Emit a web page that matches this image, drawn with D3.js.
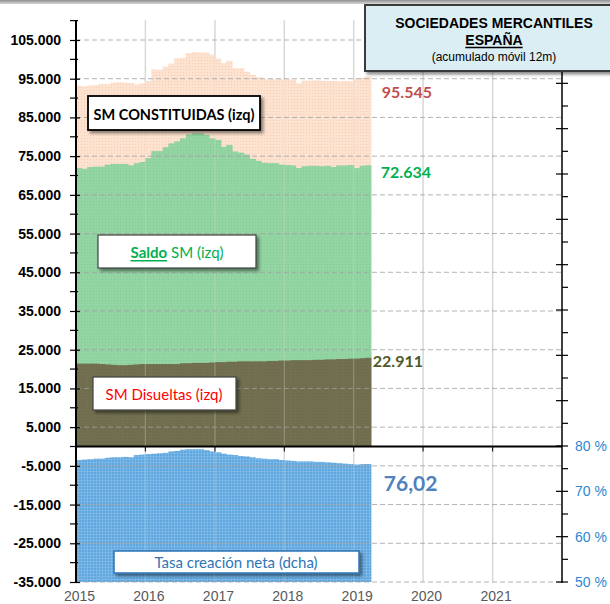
<!DOCTYPE html>
<html><head><meta charset="utf-8">
<script src="https://cdn.jsdelivr.net/npm/d3@7"></script>
<style>body{margin:0;background:#fff;} svg{display:block;}</style>
</head><body><svg id="c" width="610" height="604"></svg>
<script>
// ---- DATA ----
const months = ["2015-01","2015-02","2015-03","2015-04","2015-05","2015-06","2015-07","2015-08","2015-09","2015-10","2015-11","2015-12",
"2016-01","2016-02","2016-03","2016-04","2016-05","2016-06","2016-07","2016-08","2016-09","2016-10","2016-11","2016-12",
"2017-01","2017-02","2017-03","2017-04","2017-05","2017-06","2017-07","2017-08","2017-09","2017-10","2017-11","2017-12",
"2018-01","2018-02","2018-03","2018-04","2018-05","2018-06","2018-07","2018-08","2018-09","2018-10","2018-11","2018-12",
"2019-01","2019-02","2019-03"];
const constituidas = [93200,93000,93300,93400,93600,93600,94000,94100,94000,93900,93500,93800,
94400,97400,97300,98100,98900,100300,100400,101600,101900,101800,101800,101200,
100200,99000,99600,97700,97700,96800,96000,95400,94900,94900,94900,94900,
94900,94800,93800,94500,94500,94600,94500,94400,94400,94300,94400,94300,
94900,95200,95545];
const saldo = [71900,71700,72200,72300,72300,72800,73000,73000,73000,72600,73200,73500,
74500,76300,76300,77300,78300,78800,79600,80600,80900,80900,80500,79600,
79200,77400,77900,76200,75900,75400,74300,73800,73300,73200,73200,72800,
72700,72600,71900,72400,72500,72500,72400,72500,72200,72600,72600,72700,
71900,72500,72634];
const disueltas = [21400,21400,21400,21400,21300,21200,21100,21000,21000,21100,21200,21300,
21300,21300,21300,21300,21300,21300,21500,21500,21600,21600,21600,21700,
21800,21800,21900,21900,22000,22000,22000,22000,22000,22100,22100,22200,
22200,22300,22300,22300,22300,22400,22400,22500,22500,22600,22600,22700,
22700,22800,22911];
const tasa = [76.9,77.0,77.1,77.2,77.2,77.4,77.5,77.5,77.6,77.5,78.0,78.1,
78.2,78.3,78.4,78.5,78.8,78.9,79.2,79.3,79.3,79.3,79.1,78.8,
78.6,78.3,78.1,78.0,77.8,77.7,77.5,77.3,77.2,77.1,77.1,76.9,
76.8,76.7,76.6,76.6,76.6,76.5,76.5,76.4,76.3,76.2,76.1,76.0,
75.9,76.0,76.02];
const leftTicks = [-35000,-25000,-15000,-5000,5000,15000,25000,35000,45000,55000,65000,75000,85000,95000,105000];
const leftMinor = [-30000,-20000,-10000,0,10000,20000,30000,40000,50000,60000,70000,80000,90000,100000,110000];
const rightTicks = [50,60,70,80];
const rightAllTicks = [50,55,60,65,70,75,80,85,90,95,100,105,110,115,120,125,130,135,140,145,150,155,160];
const years = [2015,2016,2017,2018,2019,2020,2021];
const lastLabels = ["95.545","72.634","22.911","76,02"];
const titleLines = ["SOCIEDADES MERCANTILES","ESPAÑA","(acumulado móvil 12m)"];
const legendTexts = ["SM CONSTITUIDAS (izq)","Saldo","SM (izq)","SM Disueltas (izq)","Tasa creación neta (dcha)"];

// ---- SETUP ----
const svg = d3.select("#c");
const parse = d3.timeParse("%Y-%m");
const dates = months.map(parse);
const x = d3.scaleTime().domain([new Date(2015,0,1), new Date(2022,0,1)]).range([76,562]);
const yL = d3.scaleLinear().domain([-35000,105000]).range([582,40]);
const yR = d3.scaleLinear().domain([50,80]).range([582,446]);
const loc = d3.formatLocale({decimal:",", thousands:".", grouping:[3], currency:["","€"], minus:"-"});
const fmt = loc.format(",.0f");

const defs = svg.append("defs");
function pat(id, base, dot, grid){
  const p = defs.append("pattern").attr("id",id).attr("width",3).attr("height",3).attr("patternUnits","userSpaceOnUse");
  p.append("rect").attr("width",3).attr("height",3).attr("fill",base);
  if(grid){
    p.append("rect").attr("x",0).attr("y",0).attr("width",3).attr("height",1).attr("fill",dot);
    p.append("rect").attr("x",0).attr("y",0).attr("width",1).attr("height",3).attr("fill",dot);
  } else {
    p.append("rect").attr("x",0).attr("y",0).attr("width",1).attr("height",1).attr("fill",dot);
  }
}
pat("pPeach","#fde2d0","#f6cdb6",false);
pat("pGreen","#92d4a2","#86c996",false);
pat("pOlive","#716f4f","#6b694a",false);
pat("pBlue","#5ea6de","#7ab6e6",true);
const f = defs.append("filter").attr("id","sh").attr("x","-10%").attr("y","-20%").attr("width","130%").attr("height","160%");
f.append("feDropShadow").attr("dx",2.5).attr("dy",2.5).attr("stdDeviation",1.5).attr("flood-color","#000").attr("flood-opacity",0.45);
const g1 = defs.append("linearGradient").attr("id","topband").attr("x1",0).attr("x2",0).attr("y1",0).attr("y2",1);
g1.append("stop").attr("offset","0%").attr("stop-color","#8f8f8f");
g1.append("stop").attr("offset","100%").attr("stop-color","#d8d8d8");

svg.append("rect").attr("width",610).attr("height",4).attr("fill","url(#topband)");

// vertical gridlines (behind areas, visible in empty part)
svg.append("g").selectAll("line").data(years.slice(1)).join("line")
  .attr("x1",d=>x(new Date(d,0,1))).attr("x2",d=>x(new Date(d,0,1)))
  .attr("y1",20).attr("y2",582).attr("stroke","#d9d9d9").attr("stroke-width",1.5);

function bars(arr, yfun, base, fill){
  svg.append("g").selectAll("rect").data(arr).join("rect")
    .attr("x",(d,i)=>x(dates[i]))
    .attr("width",(d,i)=>x(d3.timeMonth.offset(dates[i],1))-x(dates[i])+0.6)
    .attr("y",d=>yfun(d))
    .attr("height",d=>base - yfun(d))
    .attr("fill",fill);
}
bars(constituidas, yL, yL(0), "url(#pPeach)");
bars(saldo, yL, yL(0), "url(#pGreen)");
bars(disueltas, yL, yL(0), "url(#pOlive)");
bars(tasa, yR, yR(50), "url(#pBlue)");

// faint gridlines over areas
svg.append("g").selectAll("line").data(years.slice(1)).join("line")
  .attr("x1",d=>x(new Date(d,0,1))).attr("x2",d=>x(new Date(d,0,1)))
  .attr("y1",20).attr("y2",582).attr("stroke","#d9d9d9").attr("stroke-width",1.2).attr("opacity",0.3);
svg.append("g").selectAll("line").data(leftTicks).join("line")
  .attr("x1",76).attr("x2",562).attr("y1",d=>yL(d)).attr("y2",d=>yL(d))
  .attr("stroke","#a0a0a0").attr("stroke-width",1).attr("stroke-dasharray","5,3").attr("opacity",0.8);

// zero line
svg.append("line").attr("x1",76).attr("x2",562).attr("y1",yL(0)).attr("y2",yL(0)).attr("stroke","#000").attr("stroke-width",2);
svg.append("g").selectAll("line").data(years.slice(1)).join("line")
  .attr("x1",d=>x(new Date(d,0,1))).attr("x2",d=>x(new Date(d,0,1)))
  .attr("y1",yL(0)).attr("y2",yL(0)+5).attr("stroke","#000").attr("stroke-width",1);

// left axis
const la = svg.append("g").attr("transform","translate(76,0)")
  .call(d3.axisLeft(yL).tickValues(leftTicks).tickFormat(fmt).tickSize(6).tickPadding(9));
la.select(".domain").remove();
la.selectAll(".tick line").attr("x1",4).attr("x2",-6).attr("stroke","#000").attr("stroke-width",1.2);
la.selectAll(".tick text").attr("font-family","Liberation Sans, Arial, sans-serif").attr("font-weight","bold").attr("font-size",14).attr("fill","#000");
svg.append("g").selectAll("line").data(leftMinor).join("line")
  .attr("x1",70).attr("x2",78).attr("y1",d=>yL(d)).attr("y2",d=>yL(d)).attr("stroke","#000").attr("stroke-width",1.2);
svg.append("line").attr("x1",76).attr("x2",76).attr("y1",20).attr("y2",583).attr("stroke","#000").attr("stroke-width",2);

// right axis
svg.append("line").attr("x1",562).attr("x2",562).attr("y1",20).attr("y2",583).attr("stroke","#000").attr("stroke-width",1.5);
svg.append("g").selectAll("line").data(rightAllTicks).join("line")
  .attr("x1",d=>d%10===0?556:562).attr("x2",568)
  .attr("y1",d=>yR(d)).attr("y2",d=>yR(d)).attr("stroke","#000").attr("stroke-width",1.2);
const ra = svg.append("g").attr("transform","translate(562,0)")
  .call(d3.axisRight(yR).tickValues(rightTicks).tickFormat(d=>d+" %").tickSize(0).tickPadding(13));
ra.select(".domain").remove();
ra.selectAll(".tick text").attr("font-family","Liberation Sans, Arial, sans-serif").attr("font-size",14).attr("fill","#2e86d1");

// x labels
const xa = svg.append("g").attr("transform","translate(0,588)")
  .call(d3.axisBottom(x).tickValues(years.map(y=>new Date(y,0,1))).tickFormat(d3.timeFormat("%Y")).tickSize(0).tickPadding(3));
xa.select(".domain").remove();
xa.selectAll(".tick text").attr("font-family","Liberation Sans, Arial, sans-serif").attr("font-size",14).attr("fill","#595959").attr("dx",3);

// legend boxes
function box(x0,y0,w,h,stroke,sw){
  svg.append("rect").attr("x",x0).attr("y",y0).attr("width",w).attr("height",h)
    .attr("fill","#fff").attr("stroke",stroke).attr("stroke-width",sw).attr("filter","url(#sh)");
}
const lf = "Lato, 'Open Sans', sans-serif";
box(88,96,172,34,"#000",1.8);
svg.append("text").attr("x",174).attr("y",114).attr("text-anchor","middle").attr("dominant-baseline","central")
  .attr("font-family",lf).attr("font-weight","bold").attr("font-size",14.5).attr("fill","#000").text(legendTexts[0]);

box(98,235,158,33,"#404040",1.2);
const st = svg.append("text").attr("x",177).attr("y",252).attr("text-anchor","middle").attr("dominant-baseline","central")
  .attr("font-family",lf).attr("font-size",15).attr("fill","#00b050");
st.append("tspan").attr("font-weight","bold").attr("text-decoration","underline").text(legendTexts[1]);
st.append("tspan").text(" "+legendTexts[2]);

box(93,377,143,33,"#404040",1.2);
svg.append("text").attr("x",164).attr("y",394).attr("text-anchor","middle").attr("dominant-baseline","central")
  .attr("font-family",lf).attr("font-size",15).attr("fill","#ff0000").text(legendTexts[3]);

box(114,551,245,22,"#2e75b6",1.5);
svg.append("text").attr("x",236).attr("y",562).attr("text-anchor","middle").attr("dominant-baseline","central")
  .attr("font-family",lf).attr("font-size",15).attr("fill","#2e75b6").text(legendTexts[4]);

// last value labels
const lastX = x(d3.timeMonth.offset(dates[dates.length-1],1));
const n = dates.length-1;
svg.append("text").attr("x",lastX+11).attr("y",yL(constituidas[n])+15).attr("dominant-baseline","central")
  .attr("font-family",lf).attr("font-weight","bold").attr("font-size",16).attr("fill","#c0504d").text(lastLabels[0]);
svg.append("text").attr("x",lastX+10).attr("y",yL(saldo[n])+6).attr("dominant-baseline","central")
  .attr("font-family",lf).attr("font-weight","bold").attr("font-size",16).attr("fill","#00b050").text(lastLabels[1]);
svg.append("text").attr("x",lastX+2).attr("y",yL(disueltas[n])+3).attr("dominant-baseline","central")
  .attr("font-family",lf).attr("font-weight","bold").attr("font-size",16).attr("fill","#4f5a28").text(lastLabels[2]);
svg.append("text").attr("x",lastX+13).attr("y",yR(tasa[n])+18).attr("dominant-baseline","central")
  .attr("font-family",lf).attr("font-weight","bold").attr("font-size",21).attr("fill","#4f81bd").text(lastLabels[3]);

// title box
svg.append("rect").attr("x",365).attr("y",5).attr("width",260).attr("height",66)
  .attr("fill","#dbeef4").attr("stroke","#3a3a3a").attr("stroke-width",2).attr("filter","url(#sh)");
const tf = "Liberation Sans, Arial, sans-serif";
svg.append("text").attr("x",494).attr("y",28).attr("text-anchor","middle").attr("font-family",tf)
  .attr("font-weight","bold").attr("font-size",14).attr("fill","#000").text(titleLines[0]);
const es = svg.append("text").attr("x",494).attr("y",45).attr("text-anchor","middle").attr("font-family",tf)
  .attr("font-weight","bold").attr("font-size",14).attr("fill","#000").text(titleLines[1]);
const ew = es.node().getComputedTextLength();
svg.append("line").attr("x1",494-ew/2).attr("x2",494+ew/2).attr("y1",47.5).attr("y2",47.5).attr("stroke","#000").attr("stroke-width",1.3);
svg.append("text").attr("x",494).attr("y",61).attr("text-anchor","middle").attr("font-family",tf)
  .attr("font-size",12).attr("fill","#000").text(titleLines[2]);
</script></body></html>
